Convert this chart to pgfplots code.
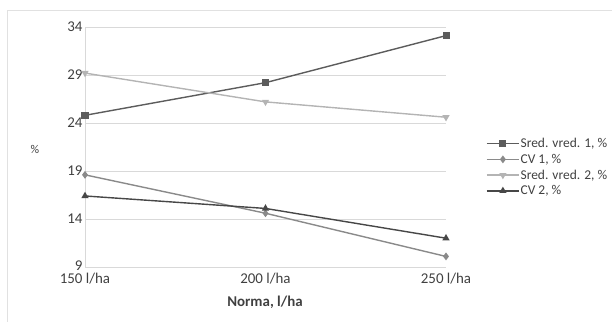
\documentclass[border=0pt]{standalone}
\usepackage{pgfplots}
\pgfplotsset{compat=1.18}
\usepackage{fontspec}
\setmainfont{Carlito}
\definecolor{sA}{HTML}{5C5C5C}
\definecolor{sB}{HTML}{8A8A8A}
\definecolor{sC}{HTML}{B4B4B4}
\definecolor{sD}{HTML}{474747}
\definecolor{gridc}{HTML}{D9D9D9}
\definecolor{txt}{HTML}{404040}
\begin{document}
\begin{tikzpicture}
\path[use as bounding box] (-85bp,-55bp) rectangle (527bp,267bp);
\draw[gridc!80, line width=1bp] (-77bp,-60bp) -- (-77bp,256bp) -- (530bp,256bp);
\begin{axis}[
  at={(0,0)}, anchor=south west,
  scale only axis, width=361bp, height=240bp,
  xmin=0, xmax=2, ymin=9, ymax=34,
  xtick={0,1,2}, xticklabels={150 l/ha,200 l/ha,250 l/ha},
  ytick={9,14,19,24,29,34},
  yticklabels={\raisebox{3bp}{9},14,19,24,29,34},
  ymajorgrids, grid style={gridc, line width=0.8bp},
  axis x line*=bottom,
  x axis line style={draw=none},
  axis y line*=left,
  y axis line style={gridc, line width=0.8bp, -},
  major tick length=0pt,
  xticklabel style={yshift=-3bp},
  yticklabel style={xshift=1bp},
  tick label style={font=\fontsize{15}{17}\selectfont, text=txt},
  /pgf/number format/assume math mode=true,
  ylabel={\%}, ylabel style={font=\fontsize{12}{14}\selectfont, text=txt, at={(-50bp,118bp)}, anchor=center, rotate=-90},
  legend style={at={(401bp,130bp)}, anchor=north west, draw=none, fill=none,
    font=\fontsize{13.5}{15}\selectfont, text=txt, row sep=3bp, inner sep=0pt,
    nodes={inner sep=1bp}},
  legend cell align=left,
  legend image code/.code={\draw[#1] (0bp,0bp) -- (32bp,0bp); \draw[#1,mark repeat=2,mark phase=2] plot coordinates {(0bp,0bp) (16bp,0bp) (32bp,0bp)};},
  every axis plot/.append style={line width=1.4bp, mark size=2.8bp},
  clip=false,
]
\addplot[color=sA, mark=square*] coordinates {(0,24.8) (1,28.2) (2,33.1)};
\addlegendentry{Sred. vred. 1, \%}
\addplot[color=sB, mark=diamond*] coordinates {(0,18.6) (1,14.6) (2,10.1)};
\addlegendentry{CV 1, \%}
\addplot[color=sC, mark=triangle*, mark options={rotate=180}] coordinates {(0,29.2) (1,26.2) (2,24.6)};
\addlegendentry{Sred. vred. 2, \%}
\addplot[color=sD, mark=triangle*] coordinates {(0,16.4) (1,15.1) (2,12.0)};
\addlegendentry{CV 2, \%}
\node[font=\fontsize{15}{17}\selectfont\bfseries, text=txt] at (180bp,-35bp) {Norma, l/ha};
\end{axis}
\end{tikzpicture}
\end{document}
